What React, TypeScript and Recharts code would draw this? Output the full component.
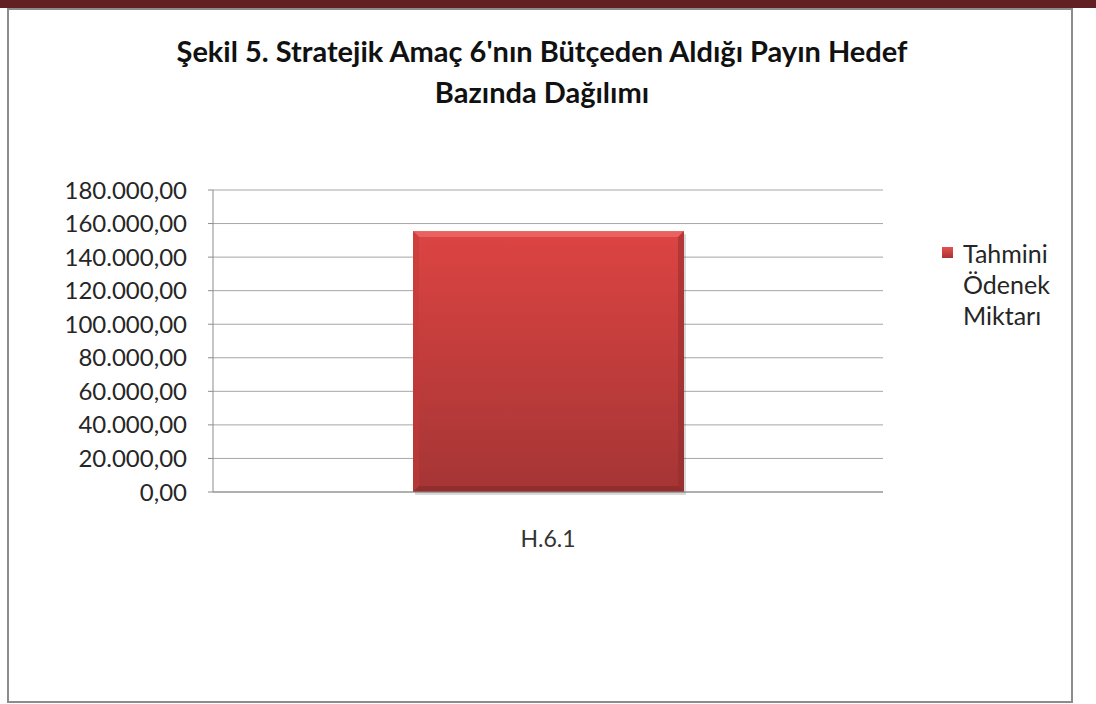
import React from 'react';
import { BarChart, Bar, XAxis, YAxis, CartesianGrid } from 'recharts';

const categories = ['H.6.1'];
const seriesName = 'Tahmini Ödenek Miktarı';
const seriesValues = [155500];
const yTicks = [0, 20000, 40000, 60000, 80000, 100000, 120000, 140000, 160000, 180000];

const data = categories.map((c, i) => ({ name: c, value: seriesValues[i] }));

const FONT = 'Lato, "Noto Sans", sans-serif';

// 180000 -> "180.000,00"
function formatTR(v: number) {
  const s = Math.round(v).toString().replace(/\B(?=(\d{3})+(?!\d))/g, '.');
  return s + ',00';
}

function BevelBar(props: any) {
  const { x, y, width, height } = props;
  if (!height || height <= 0) return null;
  const b = 6;
  return (
    <g>
      <rect x={x + 2} y={y + 3} width={width} height={height} fill="#000" opacity={0.15} />
      <rect x={x} y={y} width={width} height={height} fill="url(#barGrad)" />
      <polygon points={`${x},${y} ${x + width},${y} ${x + width - b},${y + b} ${x + b},${y + b}`} fill="#ee6a68" opacity={0.8} />
      <polygon points={`${x},${y + height} ${x + width},${y + height} ${x + width - b},${y + height - b} ${x + b},${y + height - b}`} fill="#7f2626" opacity={0.5} />
      <polygon points={`${x},${y} ${x + b},${y + b} ${x + b},${y + height - b} ${x},${y + height}`} fill="#c23a38" opacity={0.5} />
      <polygon points={`${x + width},${y} ${x + width - b},${y + b} ${x + width - b},${y + height - b} ${x + width},${y + height}`} fill="#8e2b2b" opacity={0.5} />
    </g>
  );
}

export default function App() {
  return (
    <div style={{ position: 'fixed', left: 0, top: 0, width: 1096, height: 704, background: '#fff', overflow: 'hidden' }}>
      <div style={{ position: 'absolute', left: 0, top: 0, width: 1096, height: 8, background: '#622023' }} />
      <div style={{ position: 'absolute', left: 7, top: 8, width: 1062, height: 691, border: '2px solid #8c8c8c' }} />
      <div style={{ position: 'absolute', left: 0, top: 30, width: 1084, textAlign: 'center', fontFamily: FONT, fontWeight: 'bold', fontSize: 29, lineHeight: '41px', color: '#111' }}>
        Şekil 5. Stratejik Amaç 6'nın Bütçeden Aldığı Payın Hedef<br />Bazında Dağılımı
      </div>
      <div style={{ position: 'absolute', left: 0, top: 0 }}>
        <BarChart width={1096} height={704} data={data} margin={{ top: 190, right: 213, left: 63, bottom: 162 }}>
          <defs>
            <linearGradient id="barGrad" x1="0" y1="0" x2="0" y2="1">
              <stop offset="0%" stopColor="#dc4442" />
              <stop offset="100%" stopColor="#a53535" />
            </linearGradient>
          </defs>
          <CartesianGrid vertical={false} stroke="#a6a6a6" strokeWidth={1} />
          <XAxis dataKey="name" axisLine={{ stroke: '#8c8c8c' }} tickLine={false} tick={{ fill: '#333', fontSize: 23, fontFamily: FONT }} tickMargin={33} height={50} />
          <YAxis width={150} domain={[0, 180000]} ticks={yTicks} interval={0} tickFormatter={formatTR} axisLine={{ stroke: '#8c8c8c' }} tickLine={{ stroke: '#8c8c8c' }} tickSize={5} tickMargin={21} tick={{ fill: '#262626', fontSize: 24, fontFamily: FONT }} />
          <Bar dataKey="value" name={seriesName} barSize={271} shape={<BevelBar />} isAnimationActive={false} />
        </BarChart>
      </div>
      <div style={{ position: 'absolute', left: 942, top: 238, display: 'flex', fontFamily: FONT, fontSize: 25, color: '#262626', lineHeight: '31px' }}>
        <div style={{ width: 11, height: 11, marginTop: 9, marginRight: 10, background: 'linear-gradient(#e65250, #a83232)', flexShrink: 0 }} />
        <div style={{ width: 100 }}>Tahmini Ödenek Miktarı</div>
      </div>
    </div>
  );
}
